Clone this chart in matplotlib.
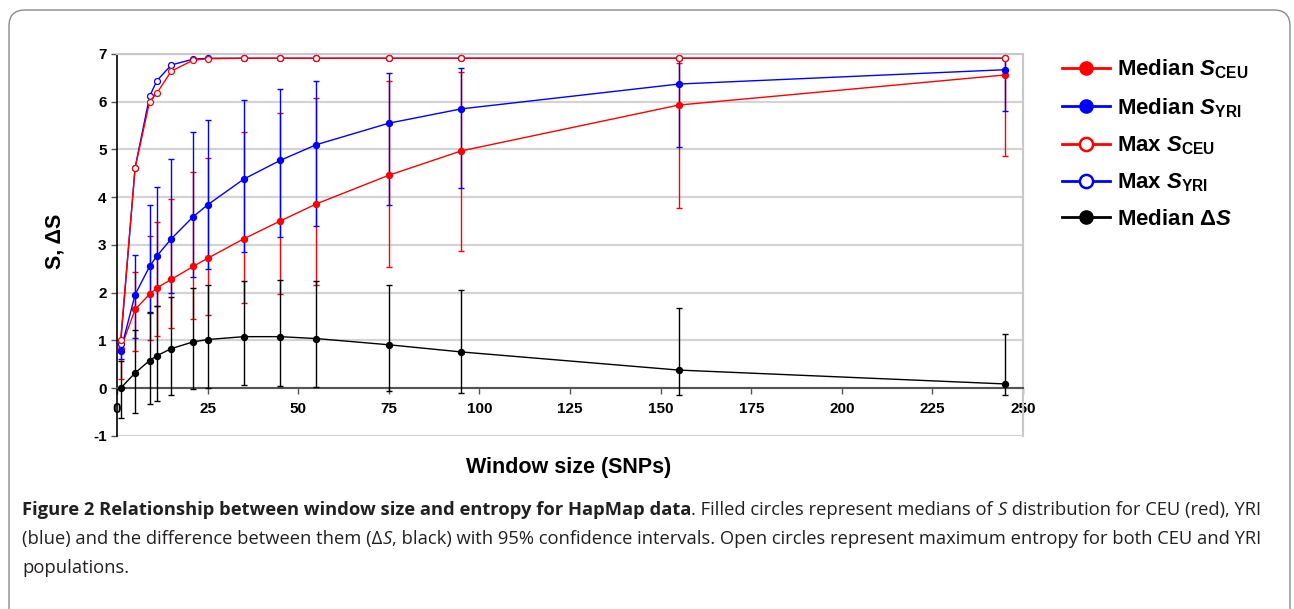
import matplotlib
matplotlib.use('Agg')
import matplotlib.pyplot as plt
import numpy as np
from matplotlib.lines import Line2D
from matplotlib.patches import FancyBboxPatch

plt.rcParams['font.family'] = ['Liberation Sans', 'DejaVu Sans']
plt.rcParams['axes.unicode_minus'] = False
plt.rcParams['mathtext.fontset'] = 'custom'
plt.rcParams['mathtext.rm'] = 'Liberation Sans:bold'
plt.rcParams['mathtext.it'] = 'Liberation Sans:bold:italic'
plt.rcParams['mathtext.bf'] = 'Liberation Sans:bold'

# window sizes (SNPs)
window = [1, 5, 9, 11, 15, 21, 25, 35, 45, 55, 75, 95, 155, 245]

# median S for CEU with 95% interval
ceu_med = [0.82, 1.65, 1.97, 2.10, 2.28, 2.55, 2.72, 3.13, 3.50, 3.86, 4.46, 4.97, 5.93, 6.56]
ceu_low = [0.19, 0.77, 1.01, 1.10, 1.26, 1.45, 1.54, 1.78, 1.98, 2.17, 2.53, 2.87, 3.77, 4.86]
ceu_high = [1.02, 2.44, 3.19, 3.48, 3.97, 4.53, 4.83, 5.37, 5.77, 6.07, 6.44, 6.63, 6.82, 6.92]

# median S for YRI with 95% interval
yri_med = [0.78, 1.96, 2.55, 2.77, 3.13, 3.59, 3.84, 4.38, 4.77, 5.10, 5.55, 5.85, 6.37, 6.67]
yri_low = [0.62, 1.05, 1.57, 1.73, 2.00, 2.33, 2.49, 2.85, 3.16, 3.40, 3.84, 4.20, 5.05, 5.81]
yri_high = [0.94, 2.79, 3.84, 4.22, 4.81, 5.37, 5.62, 6.04, 6.26, 6.44, 6.61, 6.71, 6.90, 6.89]

# maximum entropy
ceu_max = [1.00, 4.61, 6.00, 6.18, 6.64, 6.87, 6.90, 6.91, 6.91, 6.91, 6.91, 6.91, 6.91, 6.91]
yri_max = [0.92, 4.62, 6.11, 6.44, 6.77, 6.89, 6.91, 6.91, 6.91, 6.91, 6.91, 6.91, 6.91, 6.91]

# median delta S with 95% interval
d_med = [0.00, 0.32, 0.58, 0.68, 0.83, 0.97, 1.02, 1.08, 1.08, 1.04, 0.91, 0.76, 0.38, 0.09]
d_low = [-0.62, -0.51, -0.33, -0.27, -0.15, -0.02, 0.00, 0.07, 0.04, 0.02, -0.06, -0.09, -0.14, -0.14]
d_high = [0.58, 1.21, 1.60, 1.72, 1.92, 2.09, 2.17, 2.24, 2.26, 2.24, 2.17, 2.05, 1.68, 1.14]

yticks = [-1, 0, 1, 2, 3, 4, 5, 6, 7]
xticks = [0, 25, 50, 75, 100, 125, 150, 175, 200, 225, 250]

RED = '#ff0000'
BLUE = '#0000ff'

fig = plt.figure(figsize=(12.94, 6.09), dpi=100)

# rahmen + bildunterschrift
bg = fig.add_axes([0, 0, 1, 1], zorder=-1)
bg.axis('off')
bg.add_patch(FancyBboxPatch((0.09, -0.5), 12.81, 6.49, boxstyle='round,pad=0,rounding_size=0.16',
                            transform=fig.dpi_scale_trans, fc='none', ec='#8a8a8a', lw=1.0))

ax = fig.add_axes([0.0904, 0.2841, 0.7002, 0.6273])
x = np.array(window)


def serie(med, low, high, color):
    med = np.array(med)
    err = [med - np.array(low), np.array(high) - med]
    ax.errorbar(x, med, yerr=err, color=color, lw=1, elinewidth=1, capsize=2.3, capthick=1,
                marker='o', ms=4.3, mfc=color, mec=color, zorder=3)


serie(ceu_med, ceu_low, ceu_high, RED)
serie(yri_med, yri_low, yri_high, BLUE)
ax.plot(x, yri_max, color=BLUE, lw=1, marker='o', ms=4.3, mfc='white', mec=BLUE, mew=0.9, zorder=4)
ax.plot(x, ceu_max, color=RED, lw=1, marker='o', ms=4.3, mfc='white', mec=RED, mew=0.9, zorder=4)
serie(d_med, d_low, d_high, 'black')

ax.set_xlim(0, 250)
ax.set_ylim(-1, 7)
ax.set_yticks(yticks)
ax.set_xticks(xticks)
ax.yaxis.grid(True, color='#d4d4d4', lw=1.6, zorder=0)
ax.set_axisbelow(True)
ax.spines['bottom'].set_position(('data', 0))
ax.spines['bottom'].set_color('#555555')
ax.spines['bottom'].set_linewidth(1.5)
ax.spines['left'].set_color('black')
ax.spines['left'].set_linewidth(1.2)
for s in ['top', 'right']:
    ax.spines[s].set_color('#c8c8c8')
    ax.spines[s].set_linewidth(1.5)
ax.tick_params(axis='both', labelsize=11, length=4, width=1, color='#555555')
ax.tick_params(axis='x', direction='out', pad=6)
for lab in ax.get_xticklabels() + ax.get_yticklabels():
    lab.set_fontweight('bold')

fig.text(0.0425, 0.604, 'S, ΔS', rotation=90, fontsize=15.5, fontweight='bold', ha='center', va='center')
fig.text(0.4395, 0.232, 'Window size (SNPs)', fontsize=15.5, fontweight='bold', ha='center', va='center')

handles = [
    Line2D([], [], color=RED, lw=2, marker='o', ms=9.5, mfc=RED, mec=RED),
    Line2D([], [], color=BLUE, lw=2, marker='o', ms=9.5, mfc=BLUE, mec=BLUE),
    Line2D([], [], color=RED, lw=2, marker='o', ms=9.5, mfc='white', mec=RED, mew=1.8),
    Line2D([], [], color=BLUE, lw=2, marker='o', ms=9.5, mfc='white', mec=BLUE, mew=1.8),
    Line2D([], [], color='black', lw=2, marker='o', ms=9.5, mfc='black', mec='black'),
]
labels = [r'Median $\mathit{S}_{\mathrm{CEU}}$', r'Median $\mathit{S}_{\mathrm{YRI}}$',
          r'Max $\mathit{S}_{\mathrm{CEU}}$', r'Max $\mathit{S}_{\mathrm{YRI}}$', r'Median Δ$\mathit{S}$']
fig.legend(handles, labels, loc='upper left', bbox_to_anchor=(0.8207, 0.905), frameon=False,
           prop={'size': 16, 'weight': 'bold'}, handlelength=2.16, handletextpad=0.3,
           labelspacing=0.66, borderpad=0, borderaxespad=0)

# bildunterschrift, stückweise zusammengesetzt
cap_font = ['Open Sans', 'DejaVu Sans']
cap_size = 13.27
zeilen = [
    (0.148, [('Figure 2 Relationship between window size and entropy for HapMap data', 'bold', 'normal'),
             ('. Filled circles represent medians of ', 'normal', 'normal'),
             ('S', 'normal', 'italic'),
             (' distribution for CEU (red), YRI', 'normal', 'normal')]),
    (0.100, [('(blue) and the difference between them (Δ', 'normal', 'normal'),
             ('S', 'normal', 'italic'),
             (', black) with 95% confidence intervals. Open circles represent maximum entropy for both CEU and YRI',
              'normal', 'normal')]),
    (0.053, [('populations.', 'normal', 'normal')]),
]
for y0, teile in zeilen:
    prev = None
    for txt, w, st in teile:
        kw = dict(fontsize=cap_size, fontweight=w, style=st, family=cap_font, color='#231f20',
                  ha='left', va='bottom')
        if prev is None:
            prev = bg.text(0.017, y0, txt, transform=fig.transFigure, **kw)
        else:
            prev = bg.annotate(txt, xy=(1, 0), xycoords=prev, **kw)

fig.savefig('out.png', dpi=100)
